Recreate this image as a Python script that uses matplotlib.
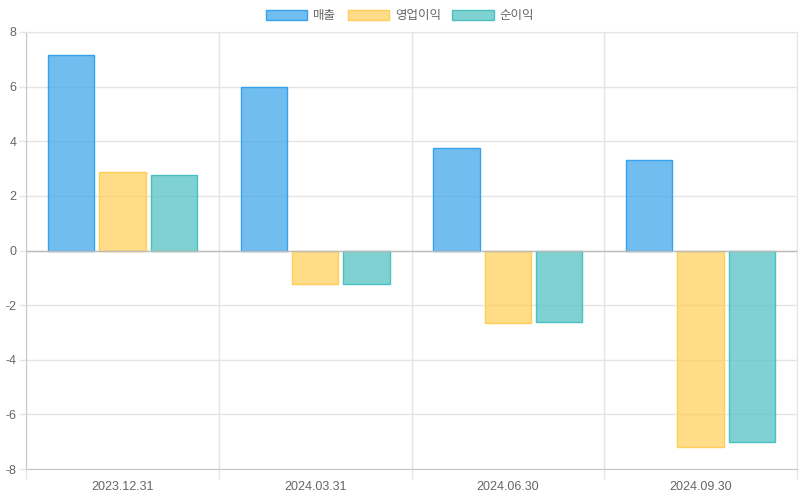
import matplotlib
matplotlib.use("Agg")
import matplotlib.pyplot as plt
from matplotlib.patches import Patch
import numpy as np

plt.rcParams['font.family'] = ['Liberation Sans', 'Noto Sans CJK KR', 'DejaVu Sans']

categories = ['2023.12.31', '2024.03.31', '2024.06.30', '2024.09.30']
series_names = ['매출', '영업이익', '순이익']
sales = [7.16, 5.99, 3.75, 3.31]
op_income = [2.87, -1.23, -2.66, -7.20]
net_income = [2.77, -1.23, -2.62, -7.01]
y_ticks = [-8, -6, -4, -2, 0, 2, 4, 6, 8]

fills = [(54/255, 162/255, 235/255, 0.7), (255/255, 206/255, 86/255, 0.7), (75/255, 192/255, 192/255, 0.7)]
edges = ['#36a2eb', '#ffce56', '#4bc0c0']

fig = plt.figure(figsize=(8, 5), dpi=100)
ax = fig.add_axes([26/800, 31/500, 771/800, 437/500])

x = np.arange(len(categories))
slot = 0.8 / 3
width = slot * 0.9
for j, vals in enumerate([sales, op_income, net_income]):
    ax.bar(x + (j - 1) * slot, vals, width=width, color=fills[j], edgecolor=edges[j],
           linewidth=1, zorder=3)

ax.set_xlim(-0.5, len(categories) - 0.5)
ax.set_ylim(-8, 8)
ax.set_yticks(y_ticks)
ax.set_yticklabels([str(v) for v in y_ticks])
ax.set_xticks(x)
ax.set_xticklabels(categories)
ax.set_xticks(np.arange(-0.5, len(categories), 1.0), minor=True)

grid_c = '#e5e5e5'
ax.grid(axis='y', which='major', color=grid_c, linewidth=1, zorder=0)
ax.grid(axis='x', which='minor', color=grid_c, linewidth=1, zorder=0)
ax.axhline(0, color='#bcbcbc', linewidth=1, zorder=4)

ax.tick_params(axis='y', which='major', length=5, width=1, color=grid_c, labelcolor='#666666',
               labelsize=9, pad=2)
ax.tick_params(axis='x', which='major', length=0, labelcolor='#666666', labelsize=9, pad=9)
ax.tick_params(axis='x', which='minor', length=7.2, width=1, color=grid_c)

for s in ['top', 'right']:
    ax.spines[s].set_color(grid_c)
for s in ['left', 'bottom']:
    ax.spines[s].set_color('#c8c8c8')

handles = [Patch(facecolor=fills[j], edgecolor=edges[j], linewidth=1, label=series_names[j]) for j in range(3)]
fig.legend(handles=handles, loc='center', bbox_to_anchor=(0.5, 0.968), ncol=3, frameon=False,
           fontsize=9, handlelength=3.3, handleheight=0.9, handletextpad=0.5, columnspacing=0.9,
           labelcolor='#666666')

fig.savefig('out.png', dpi=100)
